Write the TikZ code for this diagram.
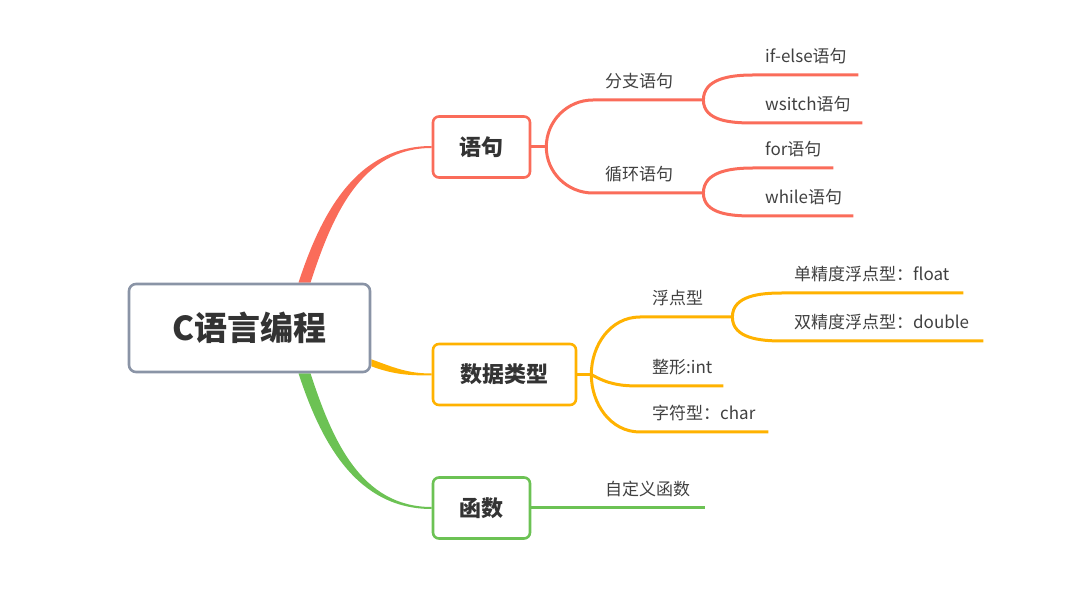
\documentclass[tikz,border=0pt]{standalone}
\usepackage{fontspec}
\setmainfont{Noto Sans CJK SC}
\usepackage{xcolor}
\usetikzlibrary{backgrounds}

\definecolor{redc}{RGB}{250,108,90}
\definecolor{orangec}{RGB}{255,178,0}
\definecolor{greenc}{RGB}{108,194,84}
\definecolor{rootc}{RGB}{138,148,166}
\definecolor{txtc}{RGB}{51,51,51}
\definecolor{leafc}{RGB}{64,64,64}

\begin{document}
\begin{tikzpicture}[x=1pt, y=1pt,
  rootbox/.style={rectangle, fill=white, draw=rootc, line width=2.6pt, rounded corners=7pt, minimum width=241pt, minimum height=88pt, text=txtc, font=\fontsize{33}{38}\selectfont\bfseries},
  topicbox/.style={rectangle, fill=white, line width=2.6pt, rounded corners=6pt, minimum height=61pt, text=txtc, font=\fontsize{22}{26}\selectfont\bfseries},
  leaf/.style={anchor=south west, inner xsep=12pt, inner ysep=12pt, text depth=0pt, align=left, text=leafc, font=\fontsize{17}{20}\selectfont},
  branch/.style={line width=3pt}]
\useasboundingbox (0,0) rectangle (1079,608);

\node[rootbox] (root) at (249.5,280) {C语言编程};
\node[topicbox, draw=redc, minimum width=97pt] (yuju) at (481.5,461) {语句};
\node[topicbox, draw=orangec, minimum width=143pt] (sjlx) at (504.5,233.5) {数据类型};
\node[topicbox, draw=greenc, minimum width=97pt] (hs) at (481.5,100) {函数};

\coordinate (s1) at ([xshift=15pt]yuju.east);
\coordinate (s2) at ([xshift=14pt]sjlx.east);

\node[leaf, text width=86pt] (fz) at (593,508) {分支语句};
\node[leaf, text width=86pt] (xh) at (593,415) {循环语句};
\node[leaf, text width=81pt] (ifelse) at (753,533) {\mbox{if-else语句}};
\node[leaf, text width=85pt] (wsw) at (753,485) {wsitch语句};
\node[leaf, text width=56pt] (for) at (753,440) {for语句};
\node[leaf, text width=76pt] (while) at (753,392) {while语句};

\node[leaf, text width=68pt] (fdx) at (640,291) {浮点型};
\node[leaf, text width=59pt] (zx) at (640,222) {整形:int};
\node[leaf, text width=104pt] (zfx) at (640,176) {字符型：char};
\node[leaf, text width=157pt] (float) at (782,315) {单精度浮点型：float};
\node[leaf, text width=177pt] (double) at (782,267) {双精度浮点型：double};

\node[leaf, text width=88pt] (zdy) at (593,100) {自定义函数};

\begin{scope}[on background layer]
\fill[redc] ([xshift=49pt]root.north) to[out=72,in=180] ([yshift=1pt]yuju.west) -- ([yshift=-1pt]yuju.west) to[out=180,in=72] ([xshift=61pt]root.north) -- cycle;
\fill[orangec] ([yshift=14pt]root.south east) to[out=-20,in=180] ([yshift=1pt]sjlx.west) -- ([yshift=-1pt]sjlx.west) to[out=180,in=-20] ([yshift=7pt]root.south east) -- cycle;
\fill[greenc] ([xshift=49pt]root.south) to[out=-72,in=180] ([yshift=-1pt]hs.west) -- ([yshift=1pt]hs.west) to[out=180,in=-72] ([xshift=61pt]root.south) -- cycle;

\draw[branch, redc] (yuju.east) -- (s1);
\draw[branch, redc] (s1) to[out=90,in=180] (fz.south west) -- (fz.south east);
\draw[branch, redc] (s1) to[out=-90,in=180] (xh.south west) -- (xh.south east);
\draw[branch, redc] (fz.south east) to[out=90,in=180] (ifelse.south west) -- (ifelse.south east);
\draw[branch, redc] (fz.south east) to[out=-90,in=180] (wsw.south west) -- (wsw.south east);
\draw[branch, redc] (xh.south east) to[out=90,in=180] (for.south west) -- (for.south east);
\draw[branch, redc] (xh.south east) to[out=-90,in=180] (while.south west) -- (while.south east);

\draw[branch, orangec] (sjlx.east) -- (s2);
\draw[branch, orangec] (s2) to[out=90,in=180] (fdx.south west) -- (fdx.south east);
\draw[branch, orangec] (s2) to[out=-30,in=180] (zx.south west) -- (zx.south east);
\draw[branch, orangec] (s2) to[out=-90,in=180] (zfx.south west) -- (zfx.south east);
\draw[branch, orangec] (fdx.south east) to[out=90,in=180] (float.south west) -- (float.south east);
\draw[branch, orangec] (fdx.south east) to[out=-90,in=180] (double.south west) -- (double.south east);

\draw[branch, greenc] (hs.east) -- (zdy.south west) -- (zdy.south east);
\end{scope}
\end{tikzpicture}
\end{document}
